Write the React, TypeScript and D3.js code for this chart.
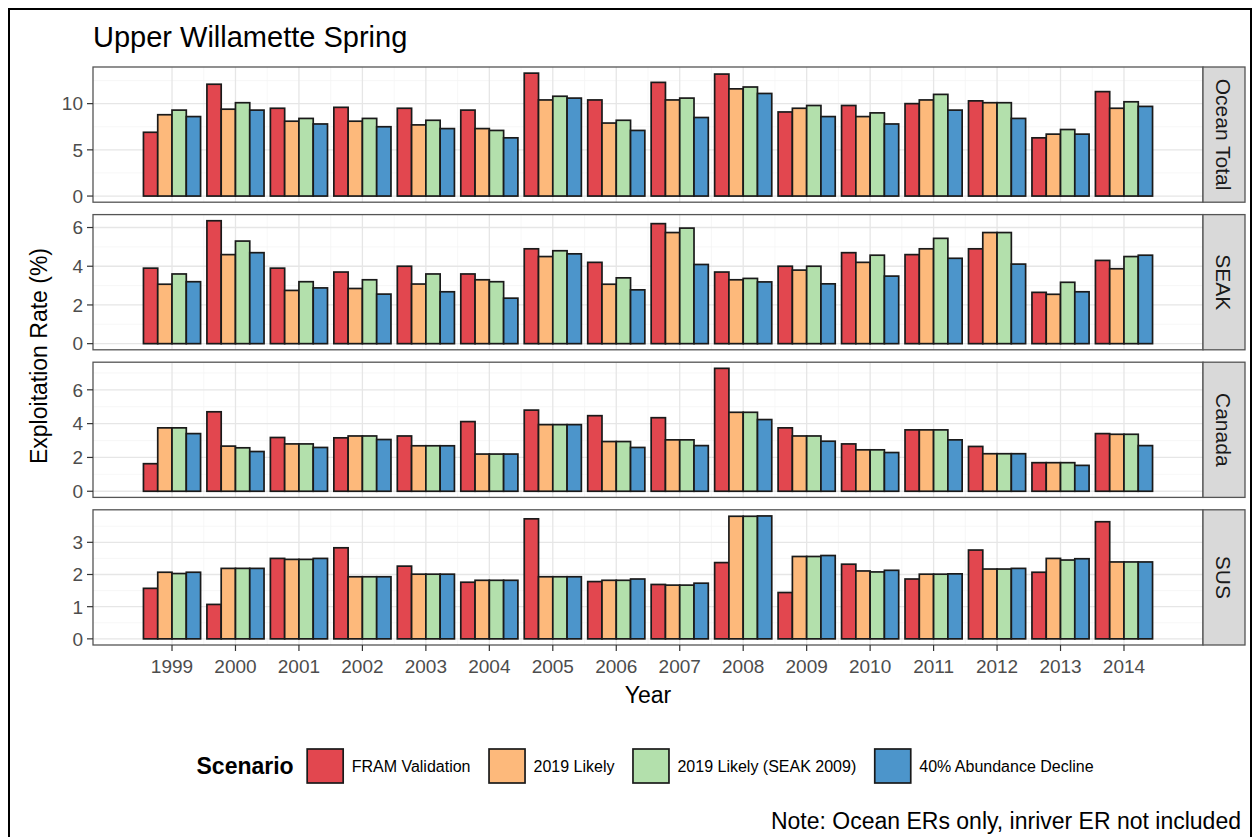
import React from "react";
import * as d3 from "d3";

const years = [1999, 2000, 2001, 2002, 2003, 2004, 2005, 2006, 2007, 2008, 2009, 2010, 2011, 2012, 2013, 2014];
const scenarios = ["FRAM Validation", "2019 Likely", "2019 Likely (SEAK 2009)", "40% Abundance Decline"];
const scenarioColors = ["#E2474F", "#FDB97B", "#B3E0AC", "#4C95CB"];
const fisheries = ["Ocean Total", "SEAK", "Canada", "SUS"];

// values per scenario, per year
const oceanFRAM = [6.9, 12.1, 9.5, 9.6, 9.5, 9.3, 13.3, 10.4, 12.3, 13.2, 9.1, 9.8, 10.0, 10.3, 6.3, 11.3];
const oceanLikely = [8.8, 9.4, 8.1, 8.1, 7.7, 7.3, 10.4, 7.9, 10.4, 11.6, 9.5, 8.6, 10.4, 10.1, 6.7, 9.5];
const oceanSeak = [9.3, 10.1, 8.4, 8.4, 8.2, 7.1, 10.8, 8.2, 10.6, 11.8, 9.8, 9.0, 11.0, 10.1, 7.2, 10.2];
const oceanDecline = [8.6, 9.3, 7.8, 7.5, 7.3, 6.3, 10.6, 7.1, 8.5, 11.1, 8.6, 7.8, 9.3, 8.4, 6.7, 9.7];

const seakFRAM = [3.9, 6.35, 3.9, 3.7, 4.0, 3.6, 4.9, 4.2, 6.2, 3.7, 4.0, 4.7, 4.6, 4.9, 2.65, 4.3];
const seakLikely = [3.07, 4.6, 2.75, 2.85, 3.08, 3.3, 4.5, 3.07, 5.74, 3.3, 3.8, 4.2, 4.9, 5.74, 2.55, 3.87];
const seakSeak = [3.6, 5.3, 3.2, 3.3, 3.6, 3.2, 4.8, 3.4, 5.97, 3.37, 4.0, 4.57, 5.44, 5.74, 3.17, 4.5];
const seakDecline = [3.2, 4.7, 2.88, 2.56, 2.68, 2.35, 4.64, 2.78, 4.09, 3.19, 3.09, 3.49, 4.41, 4.11, 2.68, 4.57];

const canFRAM = [1.63, 4.7, 3.18, 3.16, 3.27, 4.12, 4.8, 4.47, 4.35, 7.27, 3.75, 2.8, 3.63, 2.65, 1.69, 3.41];
const canLikely = [3.75, 2.67, 2.8, 3.27, 2.69, 2.2, 3.94, 2.94, 3.04, 4.67, 3.27, 2.45, 3.63, 2.22, 1.69, 3.37];
const canSeak = [3.75, 2.57, 2.8, 3.27, 2.69, 2.2, 3.94, 2.94, 3.04, 4.67, 3.27, 2.45, 3.63, 2.22, 1.69, 3.37];
const canDecline = [3.41, 2.35, 2.59, 3.06, 2.69, 2.2, 3.94, 2.59, 2.7, 4.24, 2.96, 2.29, 3.04, 2.22, 1.53, 2.7];

const susFRAM = [1.57, 1.07, 2.5, 2.83, 2.26, 1.76, 3.73, 1.78, 1.69, 2.37, 1.44, 2.32, 1.86, 2.76, 2.07, 3.64];
const susLikely = [2.07, 2.19, 2.47, 1.93, 2.01, 1.82, 1.93, 1.82, 1.67, 3.81, 2.56, 2.11, 2.01, 2.17, 2.5, 2.39];
const susSeak = [2.03, 2.19, 2.47, 1.93, 2.01, 1.82, 1.93, 1.82, 1.67, 3.81, 2.56, 2.08, 2.01, 2.17, 2.45, 2.39];
const susDecline = [2.07, 2.19, 2.5, 1.93, 2.01, 1.82, 1.93, 1.86, 1.73, 3.82, 2.59, 2.13, 2.02, 2.19, 2.49, 2.39];

const oceanTicks = [0, 5, 10];
const seakTicks = [0, 2, 4, 6];
const canTicks = [0, 2, 4, 6];
const susTicks = [0, 1, 2, 3];

const panelData = [
  { name: fisheries[0], series: [oceanFRAM, oceanLikely, oceanSeak, oceanDecline], ticks: oceanTicks },
  { name: fisheries[1], series: [seakFRAM, seakLikely, seakSeak, seakDecline], ticks: seakTicks },
  { name: fisheries[2], series: [canFRAM, canLikely, canSeak, canDecline], ticks: canTicks },
  { name: fisheries[3], series: [susFRAM, susLikely, susSeak, susDecline], ticks: susTicks },
];

const FONT = "'Liberation Sans', Arial, Helvetica, sans-serif";
const W = 1254;
const H = 837;
const panelLeft = 93;
const panelRight = 1203;
const stripRight = 1245;
const panelTop0 = 67;
const panelH = 135.2;
const panelStep = 147.6;
const barWidth = 0.9;

function measure(text: string, size: number, bold = false) {
  if (typeof document === "undefined") return text.length * size * 0.55;
  const c = document.createElement("canvas").getContext("2d");
  if (!c) return text.length * size * 0.55;
  c.font = `${bold ? "bold " : ""}${size}px ${FONT}`;
  return c.measureText(text).width;
}

export default function App() {
  const minX = d3.min(years)! - barWidth / 2;
  const maxX = d3.max(years)! + barWidth / 2;
  const padX = (maxX - minX) * 0.05;
  const x = d3.scaleLinear().domain([minX - padX, maxX + padX]).range([panelLeft, panelRight]);
  const bandW = x(barWidth) - x(0);
  const sub = d3.scaleBand().domain(scenarios).range([-bandW / 2, bandW / 2]).paddingInner(0);

  const lastBottom = panelTop0 + 3 * panelStep + panelH;
  const centerX = (panelLeft + panelRight) / 2;

  // legend layout (ggplot-like: title, keys, labels, centered on panel)
  const legendY = 766;
  const keyW = 38;
  const keyH = 34;
  const labelSize = 16;
  const titleSize = 23;
  const gap = 12.5;
  const titleW = measure("Scenario", titleSize, true);
  const labelW = scenarios.map((s) => measure(s, labelSize));
  const total = titleW + gap + scenarios.length * (keyW + gap) + d3.sum(labelW) + (scenarios.length - 1) * gap;
  const legendStart = centerX - total / 2;
  const legendItems: { kx: number; tx: number }[] = [];
  let cur = legendStart + titleW + gap;
  labelW.forEach((w) => {
    legendItems.push({ kx: cur, tx: cur + keyW + gap * 0.6 });
    cur += keyW + gap * 0.6 + w + gap * 1.4;
  });

  return (
    <svg width={W} height={H} style={{ position: "absolute", left: 0, top: 0, background: "#fff" }}>
      <rect x={0} y={0} width={W} height={H} fill="#fff" />
      <rect x={9} y={9} width={1242} height={840} fill="none" stroke="#000" strokeWidth={2} />
      <text x={panelLeft} y={47} fontFamily={FONT} fontSize={29} fill="#000">
        Upper Willamette Spring
      </text>

      {panelData.map((p, pi) => {
        const top = panelTop0 + pi * panelStep;
        const bottom = top + panelH;
        const maxV = d3.max(p.series.flat())!;
        const y = d3.scaleLinear().domain([-0.05 * maxV, 1.05 * maxV]).range([bottom, top]);
        const step = p.ticks[1] - p.ticks[0];
        const minorY = p.ticks.map((t) => t + step / 2).filter((m) => y(m) > top);
        const minorX = years.slice(0, -1).map((yr) => yr + 0.5);
        return (
          <g key={p.name}>
            <rect x={panelLeft} y={top} width={panelRight - panelLeft} height={panelH} fill="#fff" />
            {minorY.map((v) => (
              <line key={"my" + v} x1={panelLeft} x2={panelRight} y1={y(v)} y2={y(v)} stroke="#F3F3F3" strokeWidth={0.7} />
            ))}
            {minorX.map((v) => (
              <line key={"mx" + v} x1={x(v)} x2={x(v)} y1={top} y2={bottom} stroke="#F3F3F3" strokeWidth={0.7} />
            ))}
            {p.ticks.map((v) => (
              <line key={"gy" + v} x1={panelLeft} x2={panelRight} y1={y(v)} y2={y(v)} stroke="#E6E6E6" strokeWidth={1.3} />
            ))}
            {years.map((v) => (
              <line key={"gx" + v} x1={x(v)} x2={x(v)} y1={top} y2={bottom} stroke="#E6E6E6" strokeWidth={1.3} />
            ))}
            {years.map((yr, yi) =>
              p.series.map((s, si) => {
                const bx = x(yr) + sub(scenarios[si])!;
                const val = s[yi];
                return (
                  <rect
                    key={yr + "-" + si}
                    x={bx}
                    y={y(val)}
                    width={sub.bandwidth()}
                    height={y(0) - y(val)}
                    fill={scenarioColors[si]}
                    stroke="#1a1a1a"
                    strokeWidth={1.7}
                  />
                );
              })
            )}
            <rect x={panelLeft} y={top} width={panelRight - panelLeft} height={panelH} fill="none" stroke="#555" strokeWidth={1.3} />
            {p.ticks.map((v) => (
              <g key={"t" + v}>
                <line x1={panelLeft - 6} x2={panelLeft} y1={y(v)} y2={y(v)} stroke="#333" strokeWidth={1.2} />
                <text x={panelLeft - 10} y={y(v)} dy="0.36em" textAnchor="end" fontFamily={FONT} fontSize={19} fill="#4D4D4D">
                  {v}
                </text>
              </g>
            ))}
            <rect x={panelRight} y={top} width={stripRight - panelRight} height={panelH} fill="#D9D9D9" stroke="#555" strokeWidth={1.3} />
            <text
              transform={`translate(${(panelRight + stripRight) / 2},${top + panelH / 2}) rotate(90)`}
              textAnchor="middle"
              dy="0.36em"
              fontFamily={FONT}
              fontSize={21}
              fill="#1A1A1A"
            >
              {p.name}
            </text>
          </g>
        );
      })}

      {years.map((yr) => (
        <g key={"xt" + yr}>
          <line x1={x(yr)} x2={x(yr)} y1={lastBottom} y2={lastBottom + 6} stroke="#333" strokeWidth={1.2} />
          <text x={x(yr)} y={lastBottom + 28} textAnchor="middle" fontFamily={FONT} fontSize={19} fill="#4D4D4D">
            {yr}
          </text>
        </g>
      ))}
      <text x={centerX} y={lastBottom + 58} textAnchor="middle" fontFamily={FONT} fontSize={23} fill="#000">
        Year
      </text>
      <text
        transform={`translate(${47},${(panelTop0 + lastBottom) / 2}) rotate(-90)`}
        textAnchor="middle"
        fontFamily={FONT}
        fontSize={23}
        fill="#000"
      >
        Exploitation Rate (%)
      </text>

      <text x={legendStart} y={legendY} dy="0.36em" fontFamily={FONT} fontSize={titleSize} fontWeight="bold" fill="#000">
        Scenario
      </text>
      {scenarios.map((s, i) => (
        <g key={"leg" + s}>
          <rect
            x={legendItems[i].kx + 1}
            y={legendY - keyH / 2}
            width={keyW - 2}
            height={keyH}
            fill={scenarioColors[i]}
            stroke="#1a1a1a"
            strokeWidth={1.7}
          />
          <text x={legendItems[i].tx} y={legendY} dy="0.36em" fontFamily={FONT} fontSize={labelSize} fill="#000">
            {s}
          </text>
        </g>
      ))}

      <text x={1241} y={829} textAnchor="end" fontFamily={FONT} fontSize={23} fill="#000">
        Note: Ocean ERs only, inriver ER not included
      </text>
    </svg>
  );
}
